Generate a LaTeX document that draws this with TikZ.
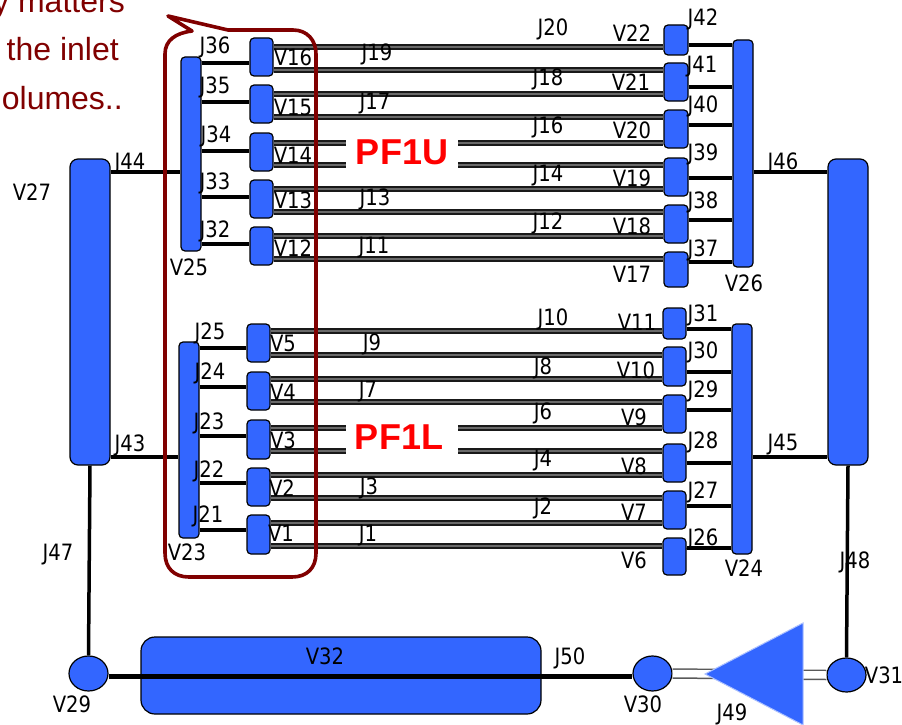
\documentclass[tikz,border=0pt]{standalone}
\usepackage{fontspec}
\setmainfont[FakeStretch=0.87]{DejaVu Sans}
\newfontfamily\arialfont{Liberation Sans}
\definecolor{volblue}{HTML}{3366FF}
\definecolor{darkred}{HTML}{800000}
\definecolor{pipegrey}{HTML}{808080}
\definecolor{pipecoregrey}{HTML}{6A6A6A}
\tikzset{
  x=1pt,y=-1pt,
  lab/.style={anchor=base,inner sep=0pt,font=\fontsize{22.5}{22.5}\selectfont,text=black},
  vol/.style={draw=black,line width=1.2pt,fill=volblue,rounded corners=4pt,inner sep=0pt},
  bigvol/.style={vol,rounded corners=8pt},
  tank/.style={vol,rounded corners=14pt},
  ball/.style={ellipse,draw=black,line width=1.2pt,fill=volblue,inner sep=0pt},
  link/.style={draw=black,line width=3.5pt},
  pipe/.style={draw=pipegrey,line width=6.6pt},
  pipemid/.style={draw=black!90,line width=5.4pt},
  pipecore/.style={draw=pipecoregrey,line width=1.8pt},
  title/.style={font=\arialfont\fontsize{36}{36}\selectfont\bfseries,text=red,fill=white,inner sep=0pt,minimum width=112pt,minimum height=36pt},
  note/.style={anchor=base east,inner sep=0pt,font=\arialfont\fontsize{32}{32}\selectfont,text=darkred},
  callout/.style={draw=darkred,line width=3.6pt,line join=round}
}
\usetikzlibrary{shapes.geometric}
\newcommand{\volbox}[6][vol]{%
  \pgfmathsetmacro{\cxv}{(#3+#5)/2}\pgfmathsetmacro{\cyv}{(#4+#6)/2}%
  \pgfmathsetmacro{\wv}{#5-#3}\pgfmathsetmacro{\hv}{#6-#4}%
  \node[#1,minimum width=\wv pt,minimum height=\hv pt] (#2) at (\cxv,\cyv) {};}
\newcommand{\lb}[3]{\node[lab] at (#1,{#2+8}) {#3};}
\newcommand{\lnk}[3]{\draw[link] (#1.east |- 0,#3) -- (#2.west |- 0,#3);}
\newcommand{\pp}[3]{\draw[pipe] (#1.east |- 0,#3) -- (#2.west |- 0,#3);\draw[pipemid] (#1.east |- 0,#3) -- (#2.west |- 0,#3);\draw[pipecore] (#1.east |- 0,#3) -- (#2.west |- 0,#3);}
\begin{document}
\begin{tikzpicture}
\useasboundingbox (0,0) rectangle (902,725);
% big volumes
\volbox[bigvol]{V27}{70}{159}{110}{465}
\volbox[bigvol]{V28}{828}{159}{868}{465}
% headers
\volbox{V25}{181}{57}{201}{251}
\volbox{V23}{179}{342}{199}{538}
\volbox{V26}{733}{40}{753}{267}
\volbox{V24}{732}{324}{752}{554}
% upper left
\volbox{V16}{250}{38}{273}{76}
\volbox{V15}{250}{85}{273}{123}
\volbox{V14}{250}{133}{273}{171}
\volbox{V13}{250}{180}{273}{218}
\volbox{V12}{250}{227}{273}{265}
% lower left
\volbox{V5}{247}{324}{270}{362}
\volbox{V4}{247}{372}{270}{410}
\volbox{V3}{247}{420}{270}{459}
\volbox{V2}{247}{468}{270}{506}
\volbox{V1}{247}{515}{270}{554}
% upper right
\volbox{V22}{664}{25}{688}{55}
\volbox{V21}{664}{63}{688}{101}
\volbox{V20}{664}{110}{688}{148}
\volbox{V19}{664}{158}{688}{196}
\volbox{V18}{664}{205}{688}{243}
\volbox{V17}{664}{252}{688}{287}
% lower right
\volbox{V11}{663}{308}{686}{339}
\volbox{V10}{663}{347}{686}{386}
\volbox{V9}{663}{395}{686}{433}
\volbox{V8}{663}{444}{686}{482}
\volbox{V7}{663}{491}{686}{529}
\volbox{V6}{663}{538}{686}{575}
% bottom
\volbox[tank]{V32}{141}{637}{541}{714}
\volbox[ball]{V29}{69}{656}{108}{691}
\volbox[ball]{V30}{633}{656}{672}{691}
\volbox[ball]{V31}{827}{658}{866}{692}
% pipes upper
\pp{V16}{V22}{47}\pp{V16}{V21}{70}\pp{V15}{V21}{94}\pp{V15}{V20}{117}
\pp{V14}{V20}{143}\pp{V14}{V19}{165}\pp{V13}{V19}{189}\pp{V13}{V18}{212}
\pp{V12}{V18}{236}\pp{V12}{V17}{259}
% pipes lower
\pp{V5}{V11}{331}\pp{V5}{V10}{355}\pp{V4}{V10}{379}\pp{V4}{V9}{402}
\pp{V3}{V9}{428}\pp{V3}{V8}{451}\pp{V2}{V8}{475}\pp{V2}{V7}{498}
\pp{V1}{V7}{523}\pp{V1}{V6}{546}
% links
\lnk{V25}{V16}{63}\lnk{V25}{V15}{102}\lnk{V25}{V14}{151}\lnk{V25}{V13}{197}\lnk{V25}{V12}{244}
\lnk{V23}{V5}{348}\lnk{V23}{V4}{387}\lnk{V23}{V3}{436}\lnk{V23}{V2}{483}\lnk{V23}{V1}{530}
\lnk{V22}{V26}{45}\lnk{V21}{V26}{87}\lnk{V20}{V26}{125}\lnk{V19}{V26}{178}\lnk{V18}{V26}{220}\lnk{V17}{V26}{262}
\lnk{V11}{V24}{329}\lnk{V10}{V24}{372}\lnk{V9}{V24}{410}\lnk{V8}{V24}{463}\lnk{V7}{V24}{506}\lnk{V6}{V24}{548}
\lnk{V27}{V25}{172}\lnk{V27}{V23}{457}\lnk{V26}{V28}{172}\lnk{V24}{V28}{457}
\draw[link] (V27.south) -- (V29.north);
\draw[link] (V28.south) -- (V31.north);
% J50
\draw[draw=black,line width=5pt] (V29.east |- 0,676) -- (V30.west |- 0,676);
% J49
\draw[draw=black!65,line width=1.5pt,double=white,double distance=7.5pt] (V30.east) -- (V31.west);
\coordinate (apex) at (705,674);
\coordinate (tritop) at (803,623);
\coordinate (tribot) at (803,725);
\draw[draw=volblue!40,line width=1pt,fill=volblue,line join=miter] (apex) -- (tritop) -- (tribot) -- cycle;
% titles
\node[title] (pf1u) at (402,152.5) {PF1U};
\node[title] (pf1l) at (402,437) {\hspace{-6pt}PF1L};
% callout
\draw[callout] (228,30) -- (168,16) -- (192,31) .. controls (176,33) and (165,40) .. (165,54) -- (165,553)
  .. controls (165,568) and (174,577) .. (189,577) -- (292,577) .. controls (307,577) and (316,568) .. (316,553)
  -- (316,54) .. controls (316,40) and (307,30) .. (293,30) -- cycle;
% labels
\lb{32}{192}{V27}\lb{130}{161}{J44}\lb{189}{267}{V25}
\lb{215}{45}{J36}\lb{215}{85}{J35}\lb{216}{134}{J34}\lb{215}{181}{J33}\lb{215}{229}{J32}
\lb{293}{58}{V16}\lb{293}{107}{V15}\lb{293}{155}{V14}\lb{293}{200}{V13}\lb{293}{248}{V12}
\lb{553}{28}{J20}\lb{377}{53}{J19}\lb{548}{77}{J18}\lb{375}{101}{J17}\lb{548}{125}{J16}
\lb{548}{173}{J14}\lb{375}{197}{J13}\lb{548}{221}{J12}\lb{374}{245}{J11}
\lb{632}{34}{V22}\lb{631}{82}{V21}\lb{632}{130}{V20}\lb{632}{178}{V19}\lb{632}{226}{V18}\lb{632}{274}{V17}
\lb{703}{18}{J42}\lb{702}{64}{J41}\lb{703}{104}{J40}\lb{703}{152}{J39}\lb{703}{200}{J38}\lb{703}{248}{J37}
\lb{744}{283}{V26}\lb{783}{161}{J46}
\lb{637}{322}{V11}\lb{636}{370}{V10}\lb{634}{417}{V9}\lb{634}{466}{V8}\lb{634}{512}{V7}\lb{634}{560}{V6}
\lb{703}{313}{J31}\lb{703}{350}{J30}\lb{703}{389}{J29}\lb{703}{440}{J28}\lb{703}{490}{J27}\lb{703}{537}{J26}
\lb{744}{568}{V24}\lb{783}{442}{J45}\lb{855}{560}{J48}
\lb{553}{317}{J10}\lb{372}{342}{J9}\lb{543}{366}{J8}\lb{368}{389}{J7}\lb{543}{411}{J6}
\lb{543}{458}{J4}\lb{369}{486}{J3}\lb{543}{506}{J2}\lb{368}{533}{J1}
\lb{283}{343}{V5}\lb{283}{392}{V4}\lb{283}{440}{V3}\lb{282}{488}{V2}\lb{281}{533}{V1}
\lb{210}{331}{J25}\lb{210}{371}{J24}\lb{209}{421}{J23}\lb{209}{469}{J22}\lb{208}{514}{J21}
\lb{187}{552}{V23}\lb{130}{443}{J43}\lb{58}{552}{J47}
\lb{72}{704}{V29}\lb{643}{704}{V30}\lb{884}{675}{V31}\lb{325}{656}{V32}\lb{570}{656}{J50}\lb{732}{712}{J49}
% note
\node[note] at (125,13) {y matters};
\node[note] at (119,61) {the inlet};
\node[note] at (123,109) {olumes..};
\end{tikzpicture}
\end{document}
